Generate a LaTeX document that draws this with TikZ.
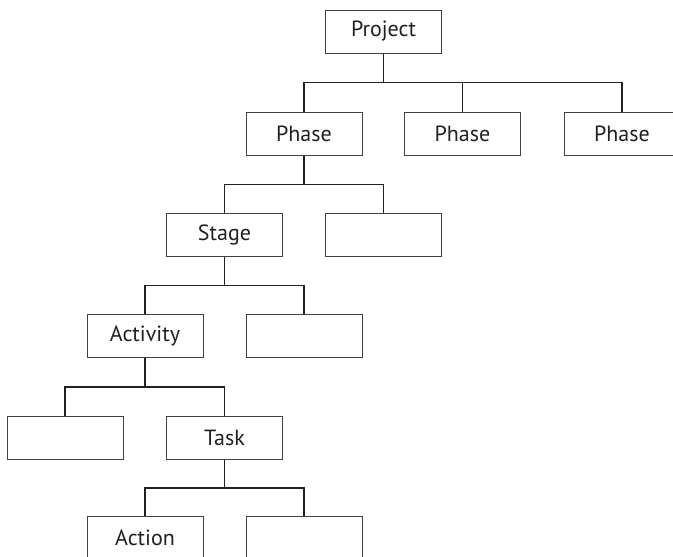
\documentclass[tikz,border=0pt]{standalone}
\usepackage{fontspec}
\setmainfont{PT Sans}
\usetikzlibrary{calc}
\definecolor{ink}{HTML}{231F20}
\begin{document}
\begin{tikzpicture}[x=1pt,y=-1pt,
  box/.style={draw=ink!85,line width=1pt,minimum width=116pt,minimum height=43pt,
    inner sep=0pt,text=ink,font=\fontsize{22}{26}\selectfont},
  branch/.style={draw=ink,line width=1.5pt,
    to path={(\tikztostart) |- ($(\tikztostart)!.5!(\tikztotarget)$) -| (\tikztotarget)}}]
\useasboundingbox[clip] (0,0) rectangle (673,557);
% boxes, one row per level
\node[box] (project) at (383.5,31.5) {Project};
\node[box] (phaseA) at (304,133.5) {Phase};
\node[box] (phaseB) at (462.5,133.5) {Phase};
\node[box] (phaseC) at (622,133.5) {Phase};
\node[box] (stage) at (224.5,235) {Stage};
\node[box] (stageB) at (383.5,235) {};
\node[box] (activity) at (145,336) {Activity};
\node[box] (activityB) at (304,336) {};
\node[box] (leftbox) at (65,437.5) {};
\node[box] (task) at (224.5,437.5) {Task};
\node[box] (action) at (145,538) {Action};
\node[box] (actionB) at (304,538) {};
% connectors
\foreach \p/\c in {project/phaseA,project/phaseB,project/phaseC,
  phaseA/stage,phaseA/stageB,stage/activity,stage/activityB,
  activity/leftbox,activity/task,task/action,task/actionB}
  \draw[branch] (\p.south) to (\c.north);
\end{tikzpicture}
\end{document}
